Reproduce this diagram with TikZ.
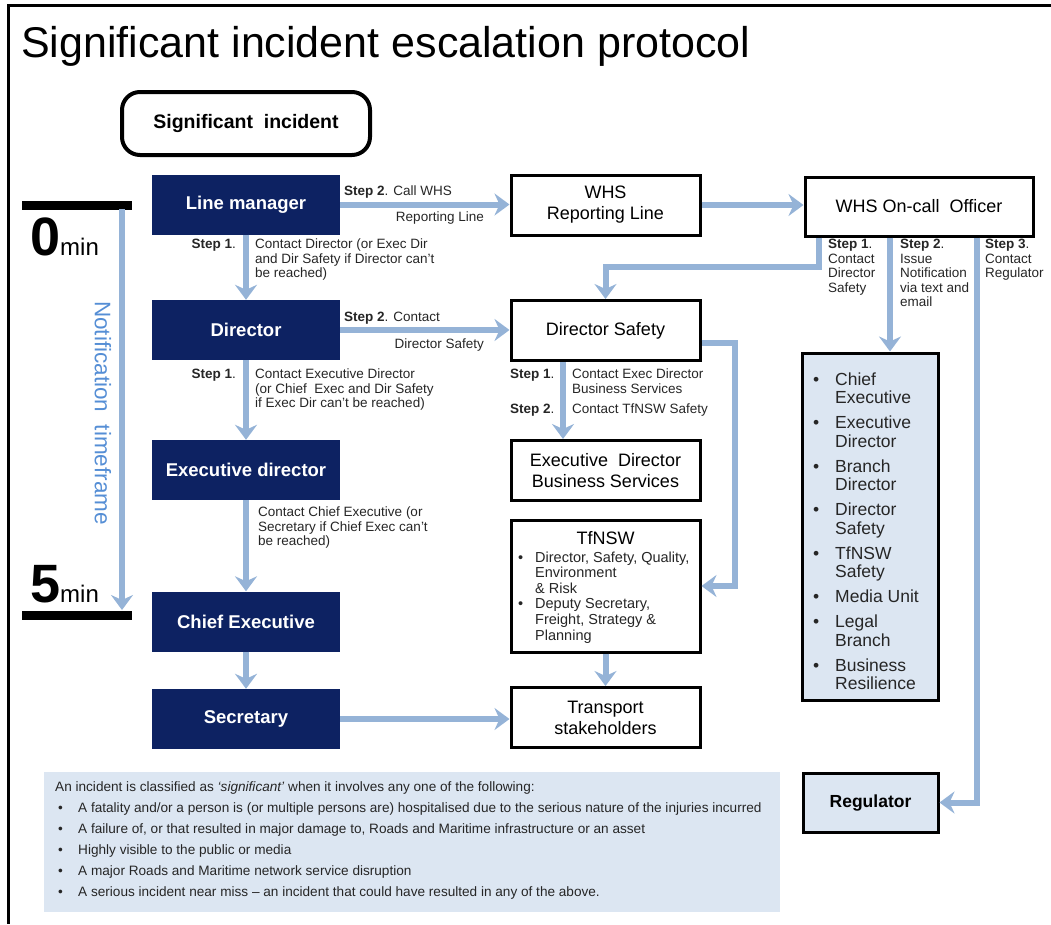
\documentclass[tikz,border=0pt]{standalone}
\usepackage{fontspec}
\setmainfont{Liberation Sans}
\usetikzlibrary{arrows.meta}

\definecolor{navy}{RGB}{13,34,98}
\definecolor{arrowblue}{RGB}{149,179,215}
\definecolor{panel}{RGB}{220,230,242}
\definecolor{timeblue}{RGB}{85,142,213}

\newcommand\boxrm{\fontsize{18}{21}\selectfont}
\newcommand\boxbf{\fontsize{18.5}{21}\selectfont\bfseries}
\newcommand\lblfont{\fontsize{13.5}{14.5}\selectfont}

\begin{document}
\begin{tikzpicture}[x=1pt,y=-1pt,
  navybox/.style={fill=navy, text=white, font=\boxbf, minimum width=188pt,
    minimum height=60pt, inner sep=0pt},
  wbox/.style={draw=black, line width=3pt, fill=white, minimum width=189pt,
    minimum height=60pt, inner sep=0pt, align=center, font=\boxrm},
  lbox/.style={draw=black, line width=3pt, fill=panel, inner sep=0pt},
  arr/.style={draw=arrowblue, line width=6pt,
    -{Stealth[length=15pt,width=22pt,inset=5pt]}},
  lbl/.style={inner sep=0pt, align=left, font=\lblfont, text=black!85},
]
\useasboundingbox (0,0) rectangle (1051,924);

% frame
\draw[line width=3pt] (1051,5) -- (8,5) -- (8,924);

% title
\node[anchor=base west, inner sep=0pt, font=\fontsize{43}{43}\selectfont]
  (title) at (21,57) {Significant incident escalation protocol};

% start box
\node[draw=black, line width=4pt, rounded corners=18pt, minimum width=248pt,
  minimum height=63pt, inner sep=0pt, font=\fontsize{19.5}{21}\selectfont\bfseries]
  (inc) at (246,123.5) {Significant\ \ incident};

% management chain
\node[navybox] (lm)  at (246,204.5) {Line manager};
\node[navybox] (dir) at (246,330)   {Director};
\node[navybox] (exd) at (246,470)   {Executive director};
\node[navybox] (ce)  at (246,621.5) {Chief Executive};
\node[navybox] (sec) at (246,719)   {Secretary};

% middle column
\node[wbox] (whs)  at (605.5,205)   {WHS\\Reporting Line};
\node[wbox] (ds)   at (605.5,330.5) {Director Safety};
\node[wbox] (edbs) at (605.5,470.5) {Executive\ \ Director\\Business Services};
\node[wbox, minimum height=132pt] (tf) at (605.5,586) {};
\node[inner sep=0pt, font=\boxrm] (tftitle) at (605.5,538) {TfNSW};
\node[anchor=north west, inner sep=0pt, font=\fontsize{14.5}{15.6}\selectfont,
  text=black!85] (tflist) at (514,551) {%
  \begin{tabular}{@{}p{21pt}@{}l@{}}
  \hspace{4pt}\textbullet & Director, Safety, Quality,\\
   & Environment\\
   & \& Risk\\
  \hspace{4pt}\textbullet & Deputy Secretary,\\
   & Freight, Strategy \&\\
   & Planning
  \end{tabular}};
\node[wbox] (ts) at (605.5,717.5) {Transport\\stakeholders};

% right column
\node[wbox, minimum width=228pt, minimum height=59pt] (oncall) at (919,206.5)
  {WHS On-call\ \ Officer};
\node[lbox, minimum width=136pt, minimum height=347pt] (list) at (870,526.5) {};
\node[anchor=north west, inner sep=0pt, font=\fontsize{17.5}{18.5}\selectfont,
  text=black!85] (listtxt) at (810,372) {%
  \begin{tabular}{@{}p{25pt}@{}l@{}}
  \hspace{3pt}\textbullet & Chief\\ & Executive\\[6.5pt]
  \hspace{3pt}\textbullet & Executive\\ & Director\\[6.5pt]
  \hspace{3pt}\textbullet & Branch\\ & Director\\[6.5pt]
  \hspace{3pt}\textbullet & Director\\ & Safety\\[6.5pt]
  \hspace{3pt}\textbullet & TfNSW\\ & Safety\\[6.5pt]
  \hspace{3pt}\textbullet & Media Unit\\[6.5pt]
  \hspace{3pt}\textbullet & Legal\\ & Branch\\[6.5pt]
  \hspace{3pt}\textbullet & Business\\ & Resilience
  \end{tabular}};
\node[lbox, minimum width=135pt, minimum height=59pt,
  font=\fontsize{17.5}{21}\selectfont\bfseries] (reg) at (870.5,802.5) {Regulator};

% definition panel
\node[fill=panel, minimum width=736pt, minimum height=140pt, inner sep=0pt]
  (note) at (412,842) {};
\node[anchor=north west, inner sep=0pt, font=\fontsize{13.6}{21}\selectfont,
  text=black!85] (notetxt) at (55,777) {%
  \begin{tabular}{@{}p{23pt}@{}l@{}}
  \multicolumn{2}{@{}l@{}}{An incident is classified as \textit{‘significant’} when it involves any one of the following:}\\
  \hspace{3pt}\textbullet & A fatality and/or a person is (or multiple persons are) hospitalised due to the serious nature of the injuries incurred\\
  \hspace{3pt}\textbullet & A failure of, or that resulted in major damage to, Roads and Maritime infrastructure or an asset\\
  \hspace{3pt}\textbullet & Highly visible to the public or media\\
  \hspace{3pt}\textbullet & A major Roads and Maritime network service disruption\\
  \hspace{3pt}\textbullet & A serious incident near miss – an incident that could have resulted in any of the above.
  \end{tabular}};

% notification timeframe
\coordinate (t0l) at (22,205);
\coordinate (t0r) at (132,205);
\coordinate (t5l) at (22,615);
\coordinate (t5r) at (132,615);
\draw[line width=9pt] (t0l) -- (t0r);
\draw[line width=9pt] (t5l) -- (t5r);
\coordinate (ttop) at (122,209);
\coordinate (tbot) at (122,610);
\draw[arr] (ttop) -- (tbot);
\node[anchor=base west, inner sep=0pt] (zero) at (30,255)
  {{\fontsize{54}{54}\selectfont\bfseries 0}{\fontsize{24}{24}\selectfont min}};
\node[anchor=base west, inner sep=0pt] (five) at (30,602)
  {{\fontsize{54}{54}\selectfont\bfseries 5}{\fontsize{24}{24}\selectfont min}};
\node[rotate=-90, inner sep=0pt, text=timeblue, font=\fontsize{22.5}{24}\selectfont]
  (ntf) at (103,413) {Notification\ \ timeframe};

% escalation down the chain
\draw[arr] (lm.south) -- (dir.north);
\draw[arr] (dir.south) -- (exd.north);
\draw[arr] (exd.south) -- (ce.north);
\draw[arr] (ce.south) -- (sec.north);

% sideways notifications
\draw[arr] (lm.east) -- (lm.east -| whs.west);
\draw[arr] (dir.east) -- (dir.east -| ds.west);
\draw[arr] (sec.east) -- (sec.east -| ts.west);
\draw[arr] (whs.east) -- (whs.east -| oncall.west);

% Director Safety branches
\coordinate (k4) at (563,0);
\draw[arr] (k4 |- ds.south) -- (k4 |- edbs.north);
\coordinate (k5) at (735,0);
\draw[arr] ([yshift=-12pt]ds.east) -| (k5 |- tf.east) -- (tf.east);
\draw[arr] (tf.south) -- (ts.north);

% On-call officer steps
\coordinate (k1) at (819,267);
\draw[arr] (k1 |- oncall.south) -- (k1) -| (ds.north);
\coordinate (k2) at (890,0);
\draw[arr] (k2 |- oncall.south) -- (k2 |- list.north);
\coordinate (k3) at (977,0);
\draw[arr] (k3 |- oncall.south) |- (reg.east);

% connector labels
\node[lbl, anchor=north west] (l1) at (344,186) {\textbf{Step 2}. Call WHS};
\node[lbl, anchor=north east] (l2) at (484,212) {Reporting Line};
\node[lbl, anchor=north east] (l3) at (236,239) {\textbf{Step 1}.};
\node[lbl, anchor=north west] (l4) at (255,239)
  {Contact Director (or Exec Dir\\and Dir Safety if Director can't\\be reached)};
\node[lbl, anchor=north west] (l5) at (344,312) {\textbf{Step 2}. Contact};
\node[lbl, anchor=north east] (l6) at (484,339) {Director Safety};
\node[lbl, anchor=north east] (l7) at (236,369) {\textbf{Step 1}.};
\node[lbl, anchor=north west] (l8) at (255,369)
  {Contact Executive Director\\(or Chief\ \ Exec and Dir Safety\\if Exec Dir can't be reached)};
\node[lbl, anchor=north west] (l9) at (258,507)
  {Contact Chief Executive (or\\Secretary if Chief Exec can't\\be reached)};
\node[lbl, anchor=north west] (l10) at (510,369) {\textbf{Step 1}.};
\node[lbl, anchor=north west] (l11) at (572,369) {Contact Exec Director\\Business Services};
\node[lbl, anchor=north west] (l12) at (510,404) {\textbf{Step 2}.};
\node[lbl, anchor=north west] (l13) at (572,404) {Contact TfNSW Safety};
\node[lbl, anchor=north west] (l14) at (828,239) {\textbf{Step 1}.\\Contact\\Director\\Safety};
\node[lbl, anchor=north west] (l15) at (900,239) {\textbf{Step 2}.\\Issue\\Notification\\via text and\\email};
\node[lbl, anchor=north west] (l16) at (985,239) {\textbf{Step 3}.\\Contact\\Regulator};
\end{tikzpicture}
\end{document}
